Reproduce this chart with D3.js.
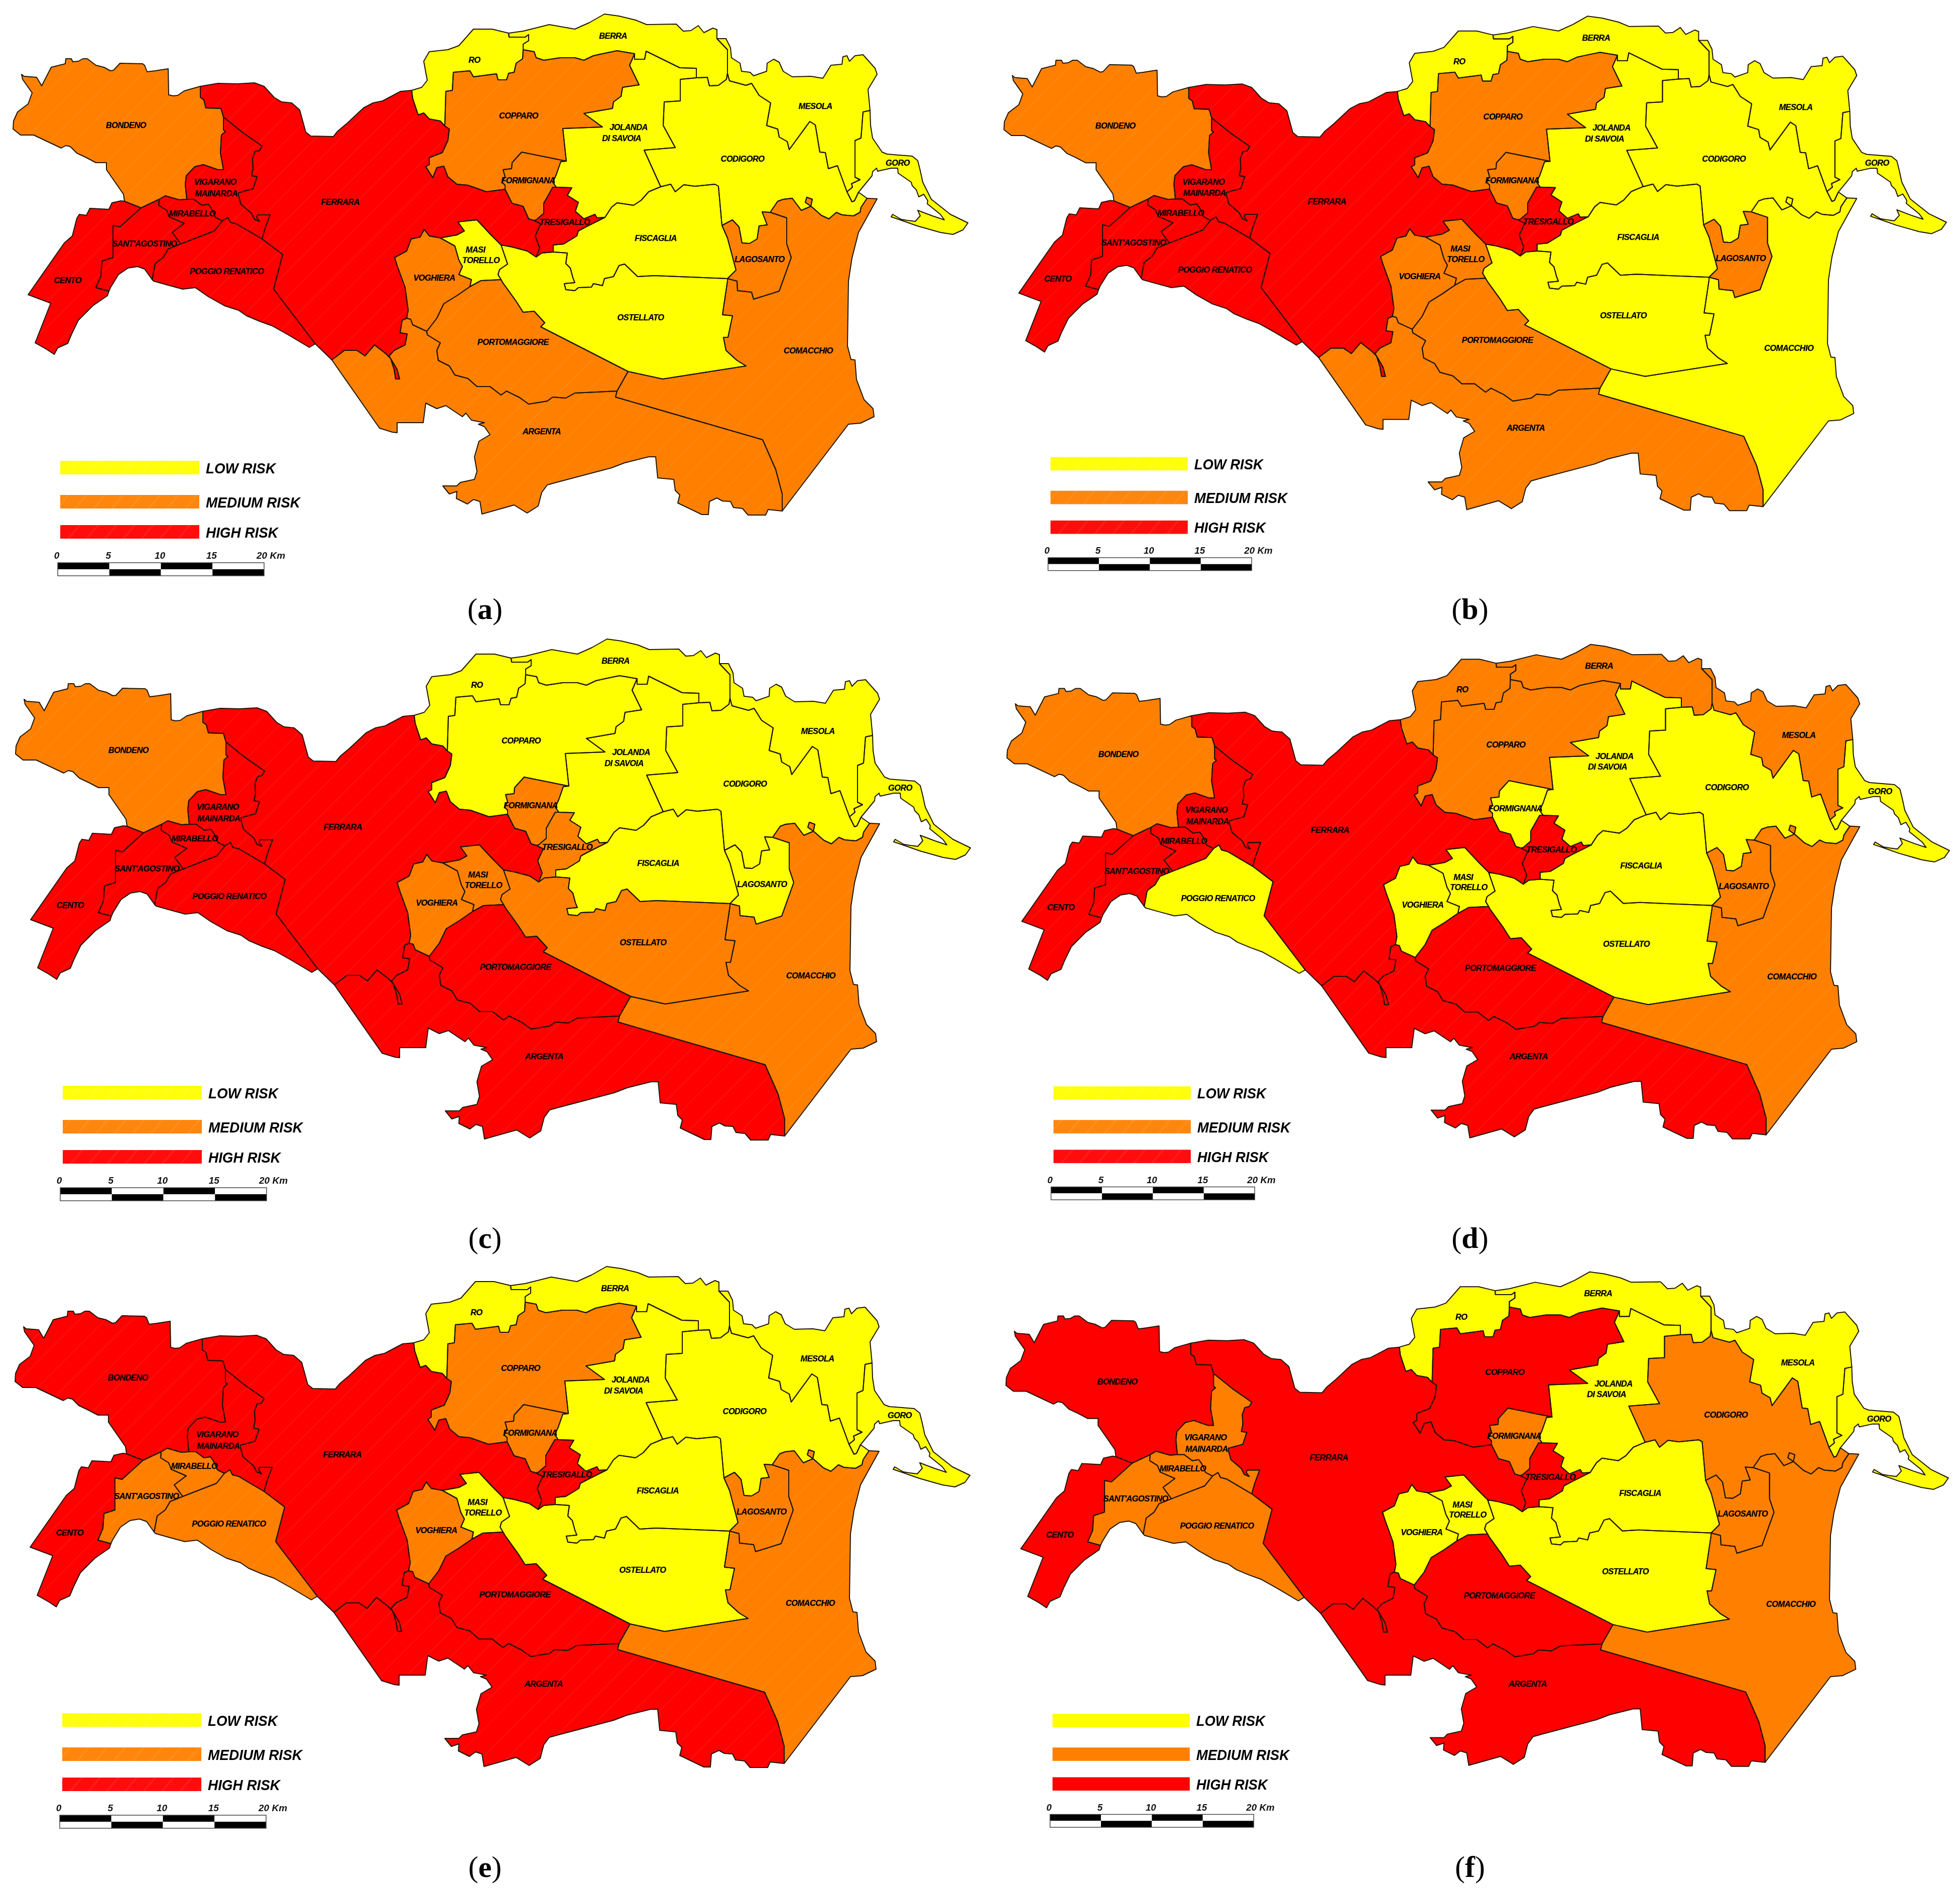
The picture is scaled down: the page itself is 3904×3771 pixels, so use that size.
<!DOCTYPE html>
<html>
<head>
<meta charset="utf-8">
<style>
  body { margin: 0; background: #fff; }
  svg { display: block; filter: blur(0.7px); }
  text { font-family: "Liberation Sans", Arial, sans-serif; }
  .name { font-size: 16.5px; font-weight: bold; font-style: italic; text-anchor: middle; dominant-baseline: central; fill: #000; stroke: #000; stroke-width: 0.25px; letter-spacing: -0.6px; }
  .legendlabel { font-size: 30px; font-weight: bold; font-style: italic; dominant-baseline: central; fill: #000; }
  .kmlabel { font-size: 19px; font-weight: bold; font-style: italic; fill: #111; }
  .caption { font-family: "Liberation Serif", serif; font-size: 60px; text-anchor: middle; fill: #000; }
</style>
</head>
<body>
<script src="https://cdn.jsdelivr.net/npm/d3@7"></script>
<script>
// Risk classes and their colours
const riskClasses = ["LOW RISK", "MEDIUM RISK", "HIGH RISK"];
const riskColors = ["#ffff00", "#ff8000", "#ff0000"];

// Municipalities, same order as the risk arrays below
const municipalities = ["BONDENO", "CENTO", "SANT'AGOSTINO", "MIRABELLO", "VIGARANO", "POGGIO RENATICO", "FERRARA", "RO", "COPPARO", "BERRA", "FORMIGNANA", "TRESIGALLO", "JOLANDA", "CODIGORO", "MESOLA", "GORO", "MASI TORELLO", "VOGHIERA", "PORTOMAGGIORE", "ARGENTA", "OSTELLATO", "FISCAGLIA", "LAGOSANTO", "COMACCHIO"];

// Risk per municipality for each map: 0 low, 1 medium, 2 high
const riskA = [1,2,2,2,2,2,2,0,1,0,1,2,0,0,0,0,0,1,1,1,0,0,1,1];
const riskB = [1,2,2,2,2,2,2,0,1,0,1,2,0,0,0,0,1,1,1,1,0,0,1,0];
const riskC = [1,2,2,2,2,2,2,0,0,0,1,1,0,0,0,0,1,1,2,2,1,0,0,1];
const riskD = [1,2,2,2,2,0,2,1,1,1,0,2,0,0,1,0,0,0,2,2,0,0,1,1];
const riskE = [2,2,1,1,2,1,2,0,1,0,1,2,0,0,0,0,0,1,2,2,0,0,1,1];
const riskF = [2,2,1,1,1,1,2,0,2,0,1,2,0,1,0,0,0,0,2,2,0,0,1,1];
const panelLetters = ["a", "b", "c", "d", "e", "f"];

// Scale bar values
const kmTicks = [0, 5, 10, 15, 20];

// Shared borders between municipalities, map coordinates
const bondenoOuter = [[248,401],[246,387],[212,338],[212,324],[191,324],[172,314],[153,305],[140,292],[131,290],[122,295],[67,269],[41,269],[26,257],[27,241],[35,223],[56,207],[64,185],[45,158],[43,148],[48,152],[73,154],[83,171],[102,134],[130,127],[131,117],[142,117],[145,123],[156,122],[165,117],[174,117],[191,130],[207,134],[220,141],[226,140],[239,126],[284,127],[288,130],[293,143],[309,141],[335,137],[336,189],[345,191],[354,190],[367,181],[399,172]];
const bondenoFerrara = [[399,172],[399,194],[406,199],[410,215],[440,216],[445,233]];
const bondenoVigarano = [[445,233],[445,259],[449,262],[441,269],[439,304],[445,338],[434,338],[405,328],[388,332],[371,350],[369,367],[372,397]];
const bondenoMirabello = [[372,397],[357,398],[329,390],[317,397]];
const bondenoAgostino = [[317,397],[300,405],[281,414]];
const bondenoCento = [[281,414],[258,405],[248,401]];
const centoOuter = [[248,401],[241,400],[223,404],[217,417],[179,415],[172,429],[158,427],[153,435],[144,470],[128,484],[56,587],[101,604],[70,683],[93,696],[108,706],[115,693],[135,684],[142,667],[156,638],[185,609],[214,589],[217,580]];
const agostinoCento = [[217,580],[191,573],[201,550],[203,520],[225,513],[225,449],[239,452],[281,414]];
const agostinoOuter = [[217,580],[220,573],[236,547],[255,534],[274,531],[288,536],[303,557]];
const agostinoPoggio = [[303,557],[309,525],[325,513],[335,496],[360,486]];
const agostinoMirabello = [[360,486],[343,463],[367,445],[337,432],[332,419],[316,409],[317,397]];
const mirabelloVigarano = [[372,397],[386,397],[402,409],[415,407],[421,415],[429,433],[443,440]];
const mirabelloPoggio = [[360,486],[427,460],[443,440]];
const vigaranoPoggio = [[443,440],[454,433],[459,443],[471,446],[522,476]];
const vigaranoFerrara = [[522,476],[528,455],[538,428],[513,428],[511,433],[517,441],[507,437],[501,425],[480,407],[475,389],[475,384],[504,376],[512,352],[501,350],[504,336],[503,316],[508,302],[517,300],[522,291],[482,263],[445,233]];
const poggioFerrara = [[522,476],[563,507],[545,576],[628,685]];
const poggioOuter = [[628,685],[616,692],[574,667],[542,649],[517,640],[491,629],[475,618],[447,609],[415,591],[389,573],[364,576],[338,569],[306,560],[303,557]];
const ferraraNorth = [[399,172],[434,166],[472,167],[507,165],[526,172],[546,194],[561,203],[581,205],[597,219],[603,241],[609,263],[619,271],[664,272],[673,261],[692,245],[724,215],[743,205],[762,201],[798,182],[820,180]];
const ferraraRo = [[820,180],[822,196],[833,229],[844,225],[855,237],[877,241],[886,251]];
const ferraraCopparo = [[886,251],[895,257],[892,280],[881,304],[855,314],[855,328],[848,332],[862,354],[870,334],[884,331],[892,352],[910,367],[932,369],[969,382],[1006,377]];
const ferraraFormignana = [[1006,377],[1020,405],[1042,411],[1053,436],[1063,439]];
const ferraraTresigallo = [[1063,439],[1077,446],[1066,470],[1075,494],[1068,512]];
const ferraraOstellato = [[1068,512],[1050,500],[1020,492],[998,488]];
const ferraraMasi = [[998,488],[976,466],[950,438],[912,442],[925,460],[910,468],[877,474]];
const ferraraVoghiera = [[877,474],[855,470],[845,457],[837,472],[819,476],[810,500],[786,513],[791,529],[807,573],[813,618],[810,634]];
const ferraraArgenta = [[810,634],[801,638],[797,663],[811,665],[807,687],[785,698],[775,709],[791,736],[796,755],[788,755],[785,736],[778,714],[769,705],[746,687],[727,709],[711,698],[686,698],[661,717]];
const ferraraSouth = [[661,717],[628,685]];
const roOuter = [[820,180],[840,174],[851,160],[844,122],[855,103],[892,99],[914,91],[943,58],[980,58],[1013,66]];
const roBerra = [[1013,66],[1014,74],[1046,74],[1053,69],[1053,81],[1042,88],[1042,99]];
const roCopparo = [[1042,99],[1041,117],[1028,126],[1024,144],[1013,146],[1009,159],[992,159],[989,147],[943,153],[936,141],[903,144],[901,180],[888,182],[886,251]];
const copparoBerra = [[1042,99],[1053,101],[1064,103],[1068,115],[1083,120],[1116,115],[1145,115],[1163,120],[1182,111],[1200,107],[1229,101],[1264,107]];
const copparoJolanda = [[1264,107],[1254,130],[1273,169],[1240,174],[1237,192],[1222,203],[1220,216],[1163,226],[1200,253],[1121,256],[1128,321]];
const copparoFormignana = [[1128,321],[1039,303],[1020,324],[1019,336],[1002,338],[1006,352],[1000,363],[1006,369],[1006,377]];
const formignanaJolanda = [[1128,321],[1117,322],[1108,348],[1101,363],[1108,373]];
const formignanaTresigallo = [[1108,373],[1101,373],[1083,405],[1083,425],[1068,438],[1063,439]];
const tresigalloJolanda = [[1108,373],[1139,374],[1130,389],[1152,403],[1146,421],[1163,436],[1185,427],[1189,434],[1205,433]];
const tresigalloFiscaglia = [[1205,433],[1167,452],[1152,460],[1149,470],[1123,486],[1102,488],[1102,502]];
const tresigalloOstellato = [[1102,502],[1079,504],[1068,512]];
const fiscagliaOstellato = [[1102,502],[1130,504],[1127,525],[1136,534],[1141,553],[1145,563],[1124,565],[1127,577],[1145,579],[1152,573],[1178,572],[1182,565],[1200,569],[1204,555],[1222,551],[1233,529],[1244,526],[1270,551],[1303,549],[1449,555]];
const fiscagliaLagosanto = [[1449,555],[1466,538],[1449,474],[1438,449]];
const fiscagliaCodigoro = [[1438,449],[1431,371],[1424,367],[1384,371],[1362,368],[1345,382],[1336,367],[1316,372]];
const fiscagliaJolanda = [[1316,372],[1292,382],[1277,399],[1262,409],[1229,404],[1218,413],[1205,433]];
const jolandaCodigoro = [[1316,372],[1283,299],[1345,294],[1321,250],[1323,203],[1355,201],[1355,158],[1387,155]];
const jolandaBerra = [[1387,155],[1387,136],[1354,135],[1287,102],[1284,118],[1264,118],[1264,107]];
const berraOuter = [[1013,66],[1042,62],[1094,49],[1145,58],[1174,45],[1204,28],[1233,32],[1266,40],[1288,49],[1347,48],[1361,62],[1376,61],[1391,51],[1402,65],[1420,56],[1428,59],[1428,77]];
const berraMesola = [[1428,77],[1449,99],[1449,134],[1449,146]];
const berraCodigoro = [[1449,146],[1447,158],[1431,170],[1413,171],[1409,154],[1387,155]];
const mesolaOuter = [[1428,77],[1446,77],[1455,95],[1457,115],[1474,126],[1477,142],[1494,144],[1501,151],[1527,142],[1528,126],[1541,118],[1552,124],[1560,142],[1578,153],[1615,152],[1639,156],[1655,130],[1677,128],[1679,113],[1687,111],[1692,122],[1703,111],[1719,109],[1743,136],[1747,148],[1729,178],[1733,220]];
const mesolaGoro = [[1733,220],[1719,223],[1715,275],[1703,280],[1703,353],[1713,358],[1696,366],[1698,373],[1687,382]];
const mesolaCodigoro = [[1687,382],[1668,330],[1650,336],[1644,304],[1633,303],[1624,249],[1613,242],[1572,298],[1568,282],[1552,273],[1549,257],[1527,250],[1535,205],[1512,190],[1497,166],[1486,170],[1453,161],[1449,146]];
const goroOuter = [[1733,220],[1734,250],[1738,275],[1757,303],[1767,307],[1817,311],[1828,320],[1833,340],[1838,363],[1855,397],[1893,427],[1928,444],[1918,458],[1898,467],[1873,463],[1827,450],[1793,438],[1775,432],[1778,427],[1795,437],[1807,439],[1823,441],[1833,430],[1828,419],[1857,430],[1881,438],[1873,427],[1847,406],[1848,400],[1840,387],[1830,392],[1825,378],[1817,370],[1815,363],[1789,345],[1788,335],[1775,335],[1748,341],[1746,335],[1738,342],[1737,350],[1710,383]];
const goroCodigoro = [[1687,382],[1697,402],[1702,400],[1710,383]];
const codigoroOuter = [[1710,383],[1727,395]];
const codigoroComacchio = [[1727,395],[1715,413],[1713,423],[1700,430],[1677,428],[1666,423],[1651,436],[1636,429],[1618,413],[1604,403],[1607,393],[1618,397],[1615,411],[1596,419],[1578,395],[1560,397],[1549,401],[1534,423]];
const codigoroLagosanto = [[1534,423],[1518,422],[1528,448],[1512,450],[1508,476],[1493,485],[1478,484],[1472,452],[1459,438],[1438,449]];
const lagosantoComacchio = [[1534,423],[1567,434],[1567,486],[1576,513],[1552,580],[1501,596],[1497,582],[1469,579],[1468,560],[1449,555]];
const ostellatoComacchio = [[1449,555],[1449,560],[1439,627],[1459,629],[1450,672],[1441,672],[1446,698],[1468,718],[1486,729],[1320,755],[1251,740]];
const ostellatoPorto = [[1251,740],[1077,651],[1085,643],[1064,620],[1042,622],[1028,600],[1002,564],[998,557]];
const masiOstellato = [[998,488],[1011,526],[995,537],[992,547],[998,557]];
const masiPorto = [[998,557],[958,559],[936,571]];
const masiVoghiera = [[936,571],[939,557],[914,547],[921,531],[914,518],[906,490],[877,474]];
const voghieraPorto = [[936,571],[910,589],[884,605],[870,634],[850,660]];
const voghieraArgenta = [[850,660],[822,647],[818,636],[810,634]];
const portoArgenta = [[850,660],[851,667],[877,683],[870,698],[873,718],[895,729],[906,747],[932,754],[950,770],[976,770],[998,787],[1009,779],[1035,792],[1053,805],[1090,799],[1101,791],[1127,793],[1145,783],[1229,779]];
const portoComacchio = [[1229,779],[1251,740]];
const comacchioArgenta = [[1229,779],[1226,791],[1519,876],[1545,935],[1558,984],[1558,1018]];
const comacchioOuter = [[1727,395],[1747,396],[1710,463],[1697,514],[1690,560],[1688,689],[1695,716],[1703,717],[1706,756],[1721,796],[1739,814],[1741,830],[1714,843],[1690,845],[1558,1018]];
const argentaOuter = [[1558,1018],[1530,1015],[1525,1026],[1490,1026],[1479,1013],[1461,1011],[1455,999],[1439,998],[1428,992],[1413,999],[1411,1025],[1398,1025],[1350,1002],[1354,986],[1345,977],[1342,955],[1310,952],[1306,910],[1292,910],[1244,922],[1218,932],[1108,961],[1090,966],[1079,981],[1072,1008],[1050,1022],[1024,1006],[960,1024],[956,999],[943,995],[931,1004],[909,993],[910,979],[895,984],[882,968],[910,968],[917,961],[945,955],[950,939],[945,910],[954,879],[976,866],[965,850],[953,845],[965,842],[939,837],[928,823],[921,830],[888,808],[870,814],[848,803],[843,842],[791,842],[791,862],[782,861],[756,853],[661,717]];

// Which borders make each municipality, [border, reversed]
const f = a => [a, false], r = a => [a, true];
const rings = [
  [f(bondenoOuter), f(bondenoFerrara), f(bondenoVigarano), f(bondenoMirabello), f(bondenoAgostino), f(bondenoCento)],
  [r(bondenoCento), r(agostinoCento), r(centoOuter)],
  [f(agostinoOuter), f(agostinoPoggio), f(agostinoMirabello), f(bondenoAgostino), r(agostinoCento)],
  [r(bondenoMirabello), f(mirabelloVigarano), r(mirabelloPoggio), f(agostinoMirabello)],
  [r(bondenoVigarano), r(vigaranoFerrara), r(vigaranoPoggio), r(mirabelloVigarano)],
  [f(vigaranoPoggio), f(poggioFerrara), f(poggioOuter), f(agostinoPoggio), f(mirabelloPoggio)],
  [f(ferraraNorth), f(ferraraRo), f(ferraraCopparo), f(ferraraFormignana), f(ferraraTresigallo), f(ferraraOstellato), f(ferraraMasi), f(ferraraVoghiera), f(ferraraArgenta), f(ferraraSouth), r(poggioFerrara), f(vigaranoFerrara), r(bondenoFerrara)],
  [f(roOuter), f(roBerra), f(roCopparo), r(ferraraRo)],
  [r(roCopparo), f(copparoBerra), f(copparoJolanda), f(copparoFormignana), r(ferraraCopparo)],
  [f(berraOuter), f(berraMesola), f(berraCodigoro), f(jolandaBerra), r(copparoBerra), r(roBerra)],
  [r(copparoFormignana), f(formignanaJolanda), f(formignanaTresigallo), r(ferraraFormignana)],
  [r(formignanaTresigallo), f(tresigalloJolanda), f(tresigalloFiscaglia), f(tresigalloOstellato), r(ferraraTresigallo)],
  [r(copparoJolanda), r(jolandaBerra), r(jolandaCodigoro), f(fiscagliaJolanda), r(tresigalloJolanda), r(formignanaJolanda)],
  [f(jolandaCodigoro), r(berraCodigoro), r(mesolaCodigoro), f(goroCodigoro), f(codigoroOuter), f(codigoroComacchio), f(codigoroLagosanto), f(fiscagliaCodigoro)],
  [f(mesolaOuter), f(mesolaGoro), f(mesolaCodigoro), r(berraMesola)],
  [f(goroOuter), r(goroCodigoro), r(mesolaGoro)],
  [r(ferraraMasi), f(masiOstellato), f(masiPorto), f(masiVoghiera)],
  [f(ferraraVoghiera), r(voghieraArgenta), r(voghieraPorto), f(masiVoghiera)],
  [f(voghieraPorto), f(portoArgenta), f(portoComacchio), f(ostellatoPorto), f(masiPorto)],
  [f(voghieraArgenta), f(ferraraArgenta), r(argentaOuter), r(comacchioArgenta), r(portoArgenta)],
  [r(ferraraOstellato), r(tresigalloOstellato), f(fiscagliaOstellato), f(ostellatoComacchio), f(ostellatoPorto), r(masiOstellato)],
  [r(tresigalloFiscaglia), r(fiscagliaJolanda), r(fiscagliaCodigoro), r(fiscagliaLagosanto), r(fiscagliaOstellato)],
  [f(fiscagliaLagosanto), r(codigoroLagosanto), f(lagosantoComacchio)],
  [f(comacchioOuter), r(comacchioArgenta), f(portoComacchio), r(ostellatoComacchio), r(lagosantoComacchio), r(codigoroComacchio)]
];

// Names drawn on the map, some on two lines
const nameText = ["BONDENO", "CENTO", "SANT'AGOSTINO", "MIRABELLO", "VIGARANO", "MAINARDA", "POGGIO RENATICO", "FERRARA", "RO", "COPPARO", "BERRA", "FORMIGNANA", "TRESIGALLO", "JOLANDA", "DI SAVOIA", "CODIGORO", "MESOLA", "GORO", "MASI", "TORELLO", "VOGHIERA", "PORTOMAGGIORE", "ARGENTA", "OSTELLATO", "FISCAGLIA", "LAGOSANTO", "COMACCHIO"];
const nameX = [251,135,288,383,429,431,452,678,945,1033,1221,1052,1125,1252,1238,1479,1624,1788,947,958,865,1022,1079,1276,1306,1513,1610];
const nameY = [249,558,485,425,362,385,540,402,119,230,71,359,442,253,275,316,211,324,497,518,553,681,859,632,474,516,698];

// Build the GeoJSON features from the borders
const features = rings.map((ring, i) => {
  let coords = [];
  ring.forEach(([arc, rev]) => { coords = coords.concat(rev ? arc.slice().reverse() : arc); });
  coords.push(coords[0]);
  return { type: "Feature", properties: { name: municipalities[i] }, geometry: { type: "Polygon", coordinates: [coords] } };
});

// Where the six maps sit on the page
const panels = [
  { risk: riskA, dx: 0, dy: 0, ly: 0, k: 1, cx: 966, cy: 1233, streaks: true },
  { risk: riskB, dx: 1974, dy: 4.5, ly: 4.5, k: 0.987, cx: 2928, cy: 1233, streaks: true },
  { risk: riskC, dx: 5, dy: 1245, ly: 1245, k: 1, cx: 966, cy: 2486, streaks: true },
  { risk: riskD, dx: 1980, dy: 1256, ly: 1258, k: 0.987, cx: 2928, cy: 2486, streaks: true },
  { risk: riskE, dx: 4, dy: 2495, ly: 2495, k: 1, cx: 966, cy: 3739, streaks: true },
  { risk: riskF, dx: 1978, dy: 2506, ly: 2508, k: 0.987, cx: 2928, cy: 3739, streaks: false }
];

const width = 3904, height = 3771;
const svg = d3.select("body").append("svg").attr("width", width).attr("height", height);
const defs = svg.append("defs");

// Faint diagonal streaks seen in the map fills
const mapStreaks = defs.append("pattern")
  .attr("id", "streaks").attr("patternUnits", "userSpaceOnUse")
  .attr("width", 74).attr("height", 200)
  .attr("patternTransform", "rotate(45)");
mapStreaks.append("line").attr("x1", 9).attr("x2", 9).attr("y1", 0).attr("y2", 200)
  .attr("stroke", "#fff").attr("stroke-opacity", 0.055).attr("stroke-width", 2);
mapStreaks.append("line").attr("x1", 47).attr("x2", 47).attr("y1", 0).attr("y2", 200)
  .attr("stroke", "#fff").attr("stroke-opacity", 0.035).attr("stroke-width", 4);

// The legend bars have a tighter hatch
const legendStreaks = defs.append("pattern")
  .attr("id", "legendstreaks").attr("patternUnits", "userSpaceOnUse")
  .attr("width", 28).attr("height", 60)
  .attr("patternTransform", "rotate(40)");
legendStreaks.append("rect").attr("width", 28).attr("height", 60).attr("fill", "#fff").attr("fill-opacity", 0.05);
legendStreaks.append("line").attr("x1", 10).attr("x2", 10).attr("y1", 0).attr("y2", 60)
  .attr("stroke", "#fff").attr("stroke-opacity", 0.07).attr("stroke-width", 3);

// Scale bar and legend placing
const kmScale = d3.scaleLinear().domain([0, 20]).range([115, 526]);
const legendTop = d3.scaleOrdinal().domain(riskClasses).range([918, 986, 1046]);
const legendTextWidth = d3.scaleOrdinal().domain(riskClasses).range([139, 188, 144]);

panels.forEach((p, n) => {
  const projection = d3.geoIdentity().scale(p.k).translate([p.dx, p.dy]);
  const path = d3.geoPath(projection);
  const g = svg.append("g");

  g.selectAll(".fill").data(features).enter().append("path")
    .attr("class", "fill")
    .attr("d", path)
    .attr("fill", (d, i) => riskColors[p.risk[i]]);

  if (p.streaks) {
    g.selectAll(".streak").data(features).enter().append("path")
      .attr("class", "streak")
      .attr("d", path)
      .attr("fill", "url(#streaks)");
  }

  g.selectAll(".border").data(features).enter().append("path")
    .attr("class", "border")
    .attr("d", path)
    .attr("fill", "none")
    .attr("stroke", "#1c1408")
    .attr("stroke-width", 2)
    .attr("stroke-linejoin", "round");

  g.selectAll(".name").data(nameText).enter().append("text")
    .attr("class", "name")
    .attr("x", (d, i) => projection([nameX[i], nameY[i]])[0])
    .attr("y", (d, i) => projection([nameX[i], nameY[i]])[1])
    .text(d => d);

  // Legend
  const legend = g.append("g").attr("transform", `translate(${p.dx},${p.ly}) scale(${p.k})`);
  riskClasses.forEach((c, i) => {
    legend.append("rect")
      .attr("x", 120).attr("y", legendTop(c)).attr("width", 277).attr("height", 27)
      .attr("fill", riskColors[i]);
    if (p.streaks) {
      legend.append("rect")
        .attr("x", 120).attr("y", legendTop(c)).attr("width", 277).attr("height", 27)
        .attr("fill", "url(#legendstreaks)");
    }
    legend.append("text")
      .attr("class", "legendlabel")
      .attr("x", 410).attr("y", legendTop(c) + 14)
      .attr("textLength", legendTextWidth(c)).attr("lengthAdjust", "spacingAndGlyphs")
      .text(c);
  });

  // Scale bar, two rows of alternating blocks
  const blocks = d3.pairs(kmTicks);
  [0, 1].forEach(row => {
    legend.selectAll(".block" + row).data(blocks).enter().append("rect")
      .attr("class", "block" + row)
      .attr("x", d => kmScale(d[0]))
      .attr("y", 1121 + row * 13)
      .attr("width", d => kmScale(d[1]) - kmScale(d[0]))
      .attr("height", 13)
      .attr("fill", (d, i) => (i + row) % 2 === 0 ? "#000" : "#fff");
  });
  legend.append("rect")
    .attr("x", kmScale(0)).attr("y", 1121)
    .attr("width", kmScale(20) - kmScale(0)).attr("height", 26)
    .attr("fill", "none").attr("stroke", "#444").attr("stroke-width", 1.5);
  legend.selectAll(".kmlabel").data(kmTicks).enter().append("text")
    .attr("class", "kmlabel")
    .attr("x", d => kmScale(d))
    .attr("y", 1113)
    .attr("text-anchor", d => d === 20 ? "start" : "middle")
    .attr("dx", d => d === 20 ? -15 : -2)
    .text(d => d === 20 ? "20 Km" : d);

  // Caption below the panel
  const caption = svg.append("text").attr("class", "caption").attr("x", p.cx).attr("y", p.cy);
  caption.append("tspan").text("(");
  caption.append("tspan").attr("font-weight", "bold").text(panelLetters[n]);
  caption.append("tspan").text(")");
});
</script>
</body>
</html>
